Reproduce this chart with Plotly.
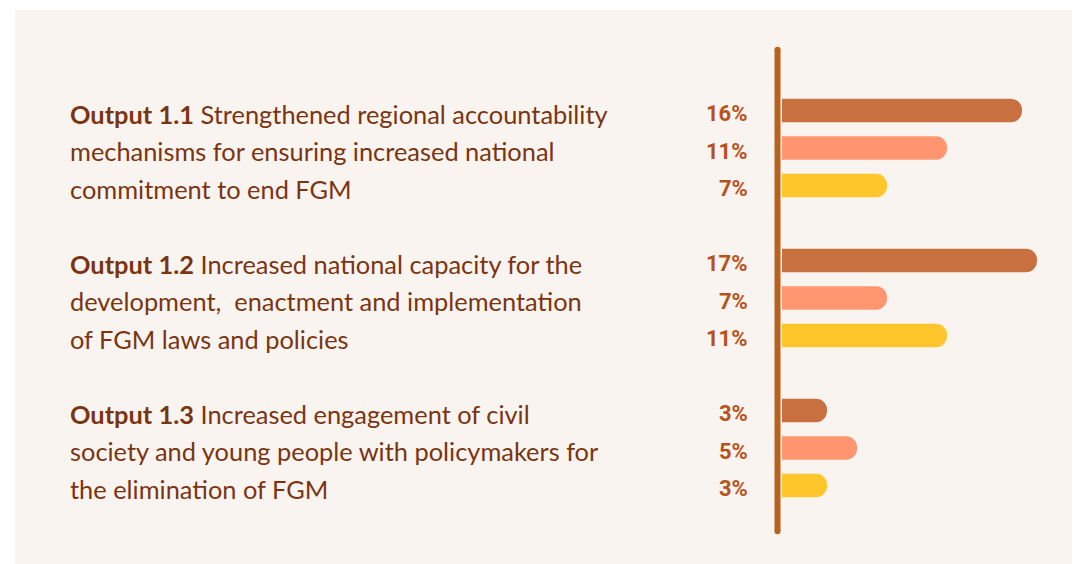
import plotly.graph_objects as go

# ---- data ----
outputs = ["Output 1.1", "Output 1.2", "Output 1.3"]
descriptions = [
    ["Strengthened regional accountability", "mechanisms for ensuring increased national", "commitment to end FGM"],
    ["Increased national capacity for the", "development,  enactment and implementation", "of FGM laws and policies"],
    ["Increased engagement of civil", "society and young people with policymakers for", "the elimination of FGM"],
]
series_a = [16, 17, 3]   # dark orange
series_b = [11, 7, 5]    # salmon
series_c = [7, 11, 3]    # yellow
pct_labels_a = ["16%", "17%", "3%"]
pct_labels_b = ["11%", "7%", "5%"]
pct_labels_c = ["7%", "11%", "3%"]

# ---- style ----
W, H = 1073, 564
CARD = "#FAF4F1"
TEXT = "#7A3510"
PCT = "#B9521A"
AXIS = "#B7621F"
COLORS = ["#C87040", "#FF9670", "#FFC62B"]
BAR_W = 0.63

def px_x(p):
    return p / W

def px_y(p):
    return 1 - p / H

fig = go.Figure()

group_rows = [0, 4, 8]
all_series = [series_a, series_b, series_c]
all_labels = [pct_labels_a, pct_labels_b, pct_labels_c]

for s_idx, (vals, col) in enumerate(zip(all_series, COLORS)):
    rows = [g + s_idx for g in group_rows]
    fig.add_trace(go.Bar(
        y=rows, x=vals, orientation="h", width=BAR_W,
        marker=dict(color=col, cornerradius="50%", line=dict(width=0)),
        hoverinfo="skip", showlegend=False,
    ))

# vertical axis line
fig.add_trace(go.Scatter(
    x=[-0.3, -0.3], y=[-1.62, 11.22], mode="lines+markers",
    line=dict(color=AXIS, width=6), marker=dict(color=AXIS, size=6),
    hoverinfo="skip", showlegend=False, cliponaxis=False,
))

annotations = []
for g, (name, lines) in enumerate(zip(outputs, descriptions)):
    for li, line in enumerate(lines):
        txt = (f"<b>{name}</b> " + line) if li == 0 else line
        annotations.append(dict(
            xref="paper", yref="y", x=px_x(68), y=group_rows[g] + li,
            text=txt, showarrow=False, xanchor="left", yanchor="middle",
            yshift=-3, font=dict(family="Lato", size=25.4, color=TEXT),
        ))
    for s_idx in range(3):
        annotations.append(dict(
            xref="paper", yref="y", x=px_x(750), y=group_rows[g] + s_idx,
            text=f"<b>{all_labels[s_idx][g]}</b>", showarrow=False,
            xanchor="right", yanchor="middle", yshift=-3,
            font=dict(family="Roboto", size=22, color=PCT),
        ))

fig.update_layout(
    width=W, height=H,
    margin=dict(l=0, r=0, t=0, b=0),
    paper_bgcolor="white", plot_bgcolor="rgba(0,0,0,0)",
    barmode="overlay",
    xaxis=dict(domain=[px_x(767), px_x(1067)], range=[-1, 19],
               visible=False, fixedrange=True),
    yaxis=dict(domain=[px_y(545.5), px_y(43)], range=[11.6, -1.8],
               visible=False, fixedrange=True),
    shapes=[dict(type="rect", xref="paper", yref="paper",
                 x0=px_x(15), x1=px_x(1072), y0=0, y1=px_y(10),
                 fillcolor=CARD, line=dict(width=0), layer="below")],
    annotations=annotations,
)

fig.write_html("out.html", config={"displayModeBar": False},
               post_script="document.body.style.margin='0';")
